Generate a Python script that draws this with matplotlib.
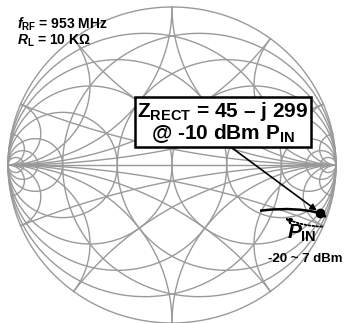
import numpy as np
import matplotlib.pyplot as plt

plt.rcParams['font.family'] = ['Liberation Sans', 'DejaVu Sans']
plt.rcParams['mathtext.fontset'] = 'custom'
plt.rcParams['mathtext.rm'] = 'Liberation Sans:bold'
plt.rcParams['mathtext.bf'] = 'Liberation Sans:bold'
plt.rcParams['mathtext.it'] = 'Liberation Sans:bold:italic'

# reference impedance and chart grid values (normalised)
z0 = 50.0
grid_res = [0.2, 0.5, 1, 2, 5, 10, 20]
grid_react = [0.2, 0.5, 1, 2, 5, 10]

# rectifier input impedance, Pin swept -20 -> 7 dBm (ohms)
r_rect = [4.5, 45, 94, 121, 129, 118.5, 105.4]
x_rect = [-294, -299, -265, -221, -167, -121.6, -97]

# highlighted point at -10 dBm
r_mark, x_mark = 45, -299

grid_color = '#9a9a9a'
grid_lw = 1.0


def gamma(z):
    return (z - 1) / (z + 1)


my_dpi = 100
fig = plt.figure(figsize=(350 / my_dpi, 323 / my_dpi), dpi=my_dpi)
ax = fig.add_axes([0, 0, 1, 1])

# outer circle and real axis
t = np.linspace(0, 2 * np.pi, 600)
ax.plot(np.cos(t), np.sin(t), color=grid_color, lw=grid_lw)
ax.plot([-1, 1], [0, 0], color=grid_color, lw=grid_lw)

# constant resistance / conductance circles
for v in grid_res:
    c, rad = v / (1 + v), 1 / (1 + v)
    ax.plot(c + rad * np.cos(t), rad * np.sin(t), color=grid_color, lw=grid_lw)
    ax.plot(-c + rad * np.cos(t), rad * np.sin(t), color=grid_color, lw=grid_lw)

# constant reactance / susceptance arcs
sweep = np.tan(np.linspace(0, np.pi / 2 - 1e-4, 800))
for v in grid_react:
    for s in (1, -1):
        g = gamma(sweep + 1j * s * v)
        ax.plot(g.real, g.imag, color=grid_color, lw=grid_lw)
        ax.plot(-g.real, -g.imag, color=grid_color, lw=grid_lw)

# impedance trajectory
z_rect = (np.array(r_rect) + 1j * np.array(x_rect)) / z0
g_rect = gamma(z_rect)
ax.plot(g_rect.real, g_rect.imag, color='black', lw=1.8, solid_capstyle='butt')

g_mark = gamma((r_mark + 1j * x_mark) / z0)
ax.plot(g_mark.real, g_mark.imag, 'o', color='black', markersize=6)

# label box with pointer
ax.text(0.309, 0.269, 'Z$_{\\mathrm{RECT}}$ = %d \u2013 j %d\n@ -10 dBm P$_{\\mathrm{IN}}$' % (r_mark, -x_mark),
        fontsize=15, fontweight='bold', ha='center', va='center', multialignment='center',
        linespacing=0.95,
        bbox=dict(boxstyle='square,pad=0.12', fc='white', ec='black', lw=1.8), zorder=5)
ax.annotate('', xy=(g_mark.real, g_mark.imag), xytext=(0.366, 0.108),
            arrowprops=dict(arrowstyle='-|>', color='black', lw=1.2, shrinkA=0, shrinkB=3,
                            mutation_scale=9))

# direction of increasing input power
ax.annotate('', xy=(0.689, -0.337), xytext=(0.915, -0.390),
            arrowprops=dict(arrowstyle='-|>', color='black', lw=1.3, ls=(0, (1, 1.2)),
                            shrinkA=0, shrinkB=0, mutation_scale=9,
                            connectionstyle='arc3,rad=-0.1'))
ax.text(0.793, -0.430, '$\\mathit{P}_{\\mathrm{IN}}$', fontsize=15, ha='center', va='center')
ax.text(0.815, -0.598, '-20 ~ 7 dBm', fontsize=9.5, fontweight='bold', ha='center', va='center')

# operating conditions
ax.text(-0.945, 0.838, '$\\mathit{f}_{\\mathrm{RF}}$ = 953 MHz\n$\\mathit{R}_{\\mathrm{L}}$ = 10 K\u03a9',
        fontsize=10, fontweight='bold', ha='left', va='center', linespacing=0.95)

ax.set_xlim(-172 / 164, 178 / 164)
ax.set_ylim(-(323 - 165) / 158, 165 / 158)
ax.axis('off')

plt.savefig('out.png', dpi=my_dpi)
